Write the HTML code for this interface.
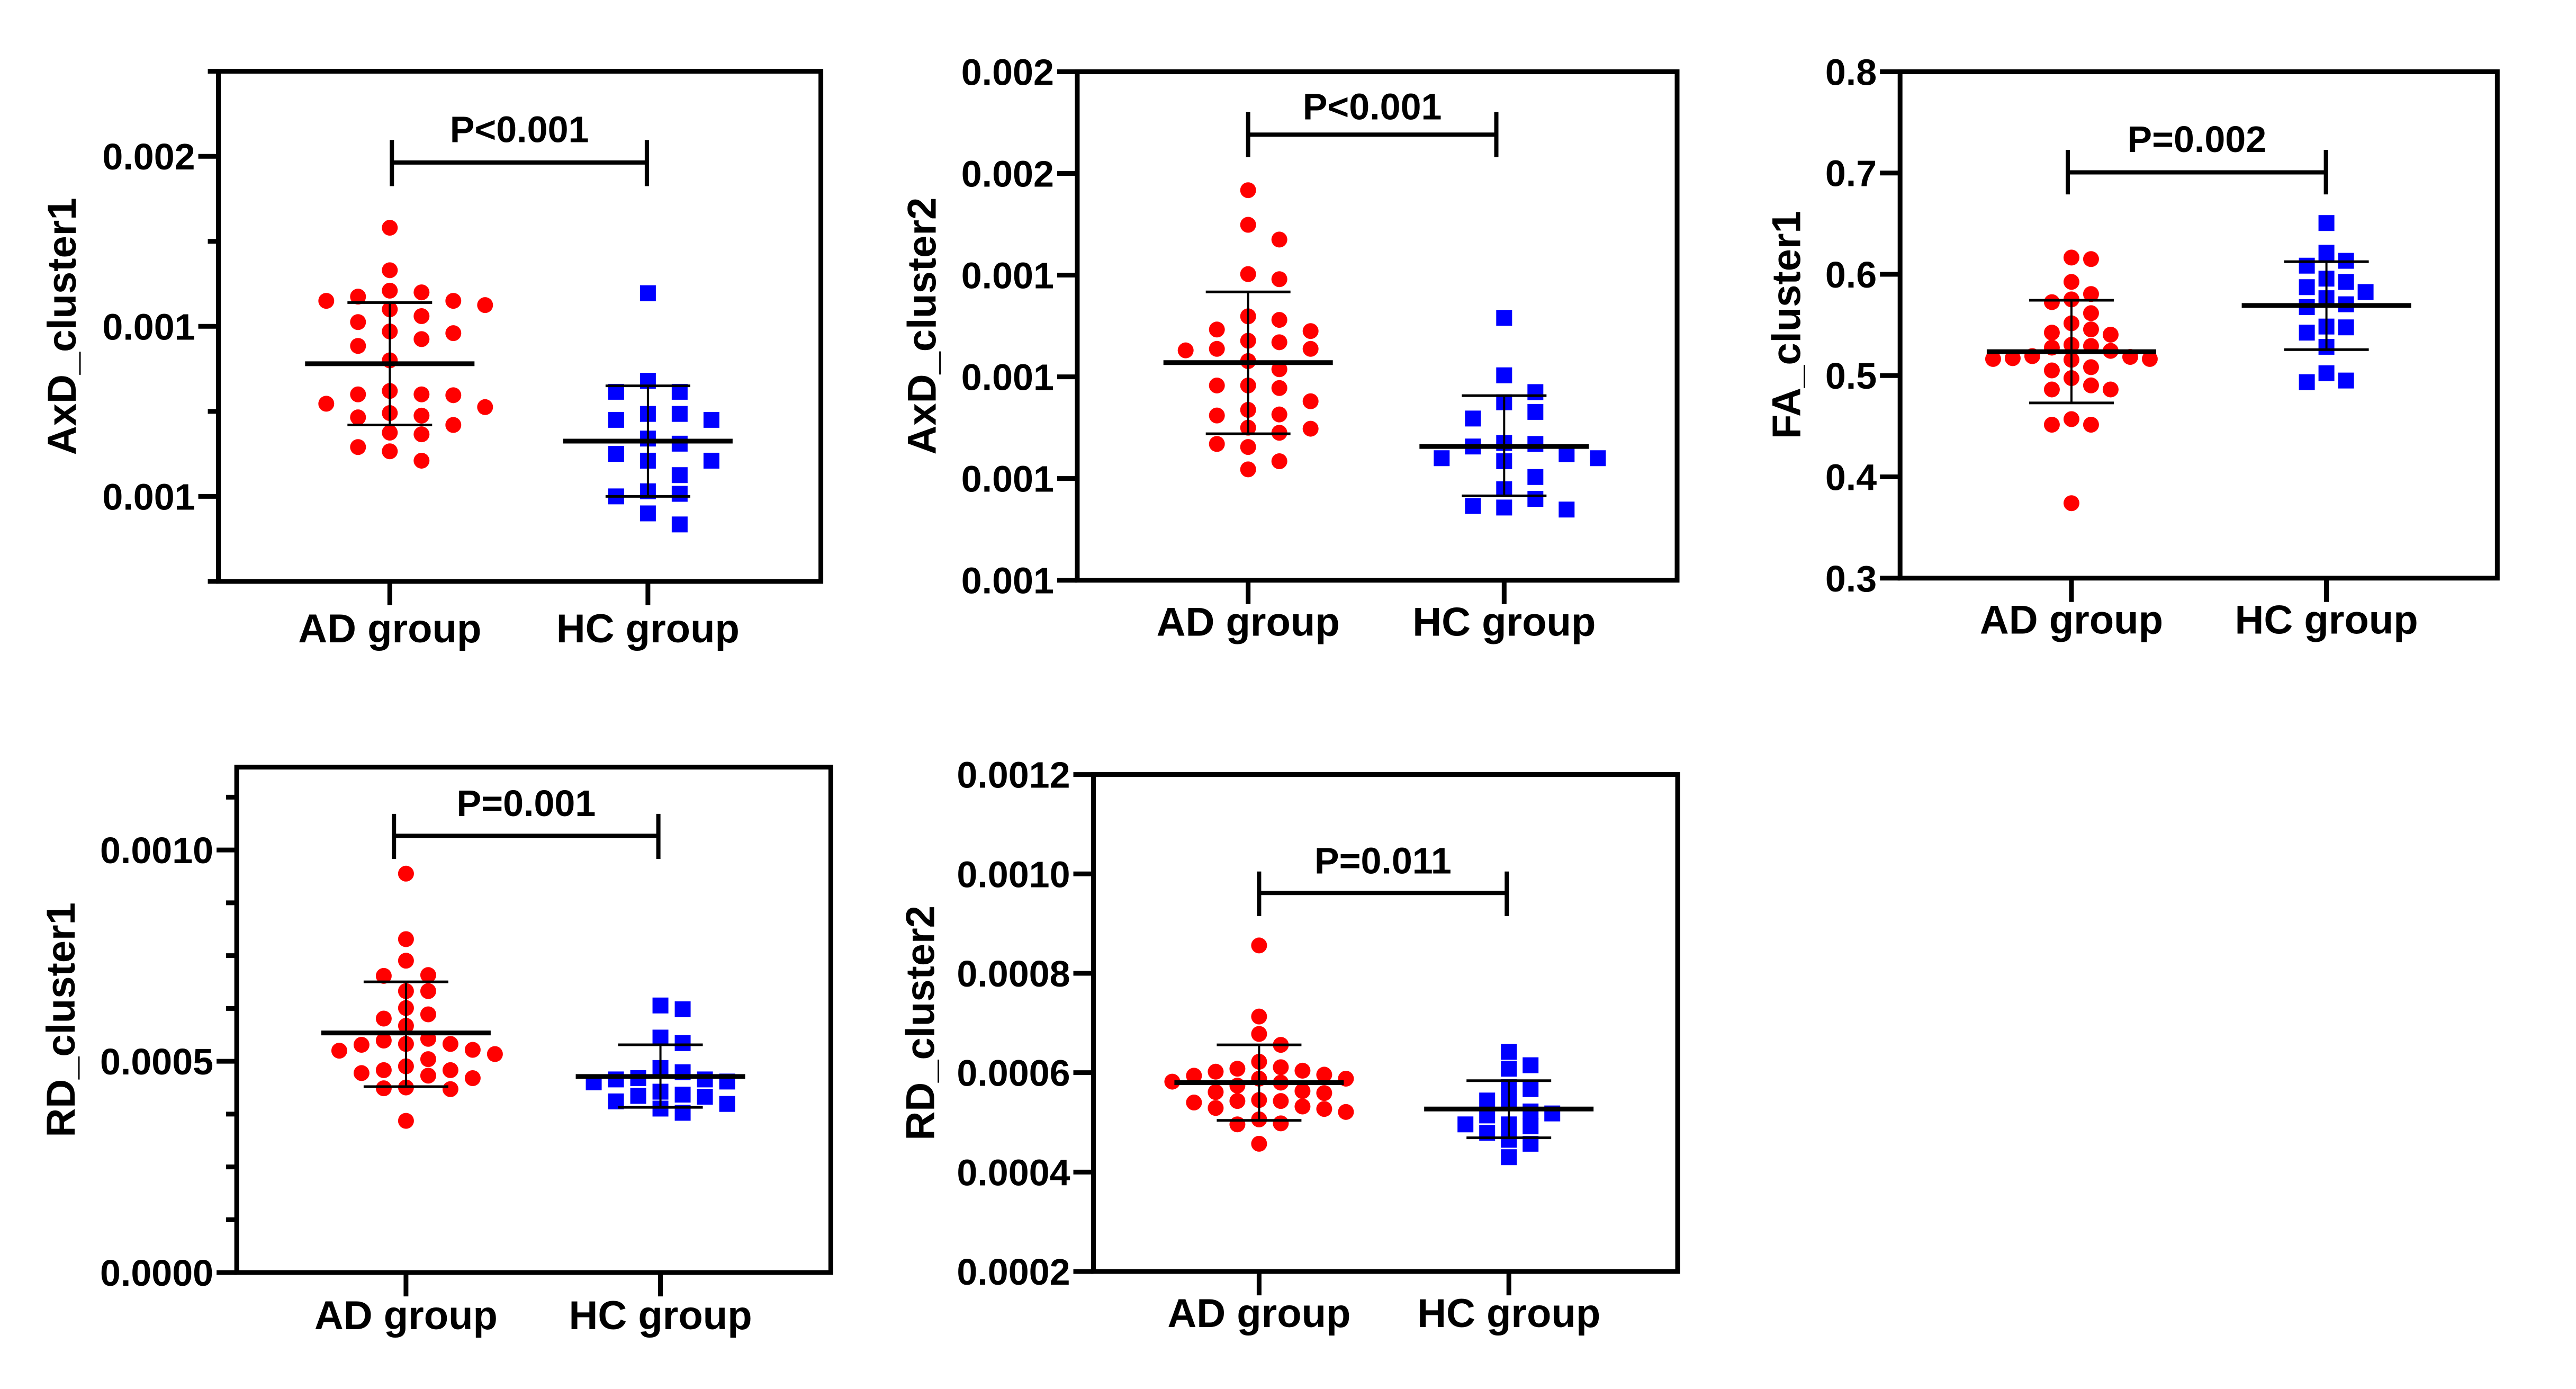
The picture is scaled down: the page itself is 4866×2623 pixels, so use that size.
<!DOCTYPE html>
<html><head><meta charset="utf-8"><style>
html,body{margin:0;padding:0;background:#fff;}
svg{display:block;}
text{font-family:"Liberation Sans",Arial,sans-serif;font-weight:bold;fill:#000;}
</style></head><body>
<svg id="fig" width="4866" height="2623" viewBox="0 0 4866 2623" xmlns="http://www.w3.org/2000/svg">
<rect x="0" y="0" width="4866" height="2623" fill="#fff"/>
</svg>
<script>
// ---- data ----
const groupNames = ["AD group", "HC group"];

const p1_ad = [15.16,14.66,14.42,14.40,14.35,14.30,14.30,14.25,14.20,14.12,14.05,13.94,13.92,13.85,13.77,13.60,13.24,13.20,13.19,13.20,13.09,13.05,12.98,12.95,12.93,12.84,12.75,12.73,12.58,12.53,12.42].map(v=>v*1e-4);
const p1_hc = [14.39,13.36,13.23,13.23,12.97,12.97,12.90,12.90,12.68,12.62,12.50,12.42,12.42,12.25,12.06,12.03,12.00,11.80,11.67].map(v=>v*1e-4);
const p1_mean = [0.001356, 0.001265];
const p1_sdHi = [0.001428, 0.001330];
const p1_sdLo = [0.001284, 0.001200];
const p1_ticks = [0.0011,0.0012,0.0013,0.0014,0.0015,0.0016,0.0017];
const p1_tickLabels = ["","0.001","","0.001","","0.002",""];

const p2_ad = [14.67,13.99,13.70,13.02,12.92,12.19,12.12,11.93,11.90,11.71,11.68,11.55,11.55,11.52,11.31,11.15,10.83,10.83,10.78,10.52,10.35,10.26,10.24,10.00,9.98,9.90,9.68,9.62,9.34,9.18].map(v=>v*1e-4);
const p2_hc = [12.16,11.03,10.70,10.50,10.31,10.18,9.70,9.68,9.63,9.48,9.40,9.40,9.34,9.03,8.79,8.60,8.43,8.39,8.46].map(v=>v*1e-4);
const p2_mean = [0.001128, 0.000963];
const p2_sdHi = [0.001267, 0.001063];
const p2_sdLo = [0.000988, 0.000866];
const p2_ticks = [0.0007,0.0009,0.0011,0.0013,0.0015,0.0017];
const p2_tickLabels = ["0.001","0.001","0.001","0.001","0.002","0.002"];

const p3_ad = [0.6165,0.615,0.5925,0.5805,0.5752,0.5725,0.5616,0.5516,0.5456,0.5424,0.5404,0.5304,0.5292,0.5276,0.5244,0.5192,0.5184,0.5172,0.5164,0.5164,0.5156,0.5083,0.5051,0.4975,0.4903,0.4863,0.4863,0.457,0.4515,0.4515,0.374];
const p3_hc = [0.6506,0.6213,0.6133,0.6085,0.5957,0.5925,0.5873,0.5825,0.5764,0.5704,0.5676,0.5484,0.5476,0.5424,0.5284,0.5023,0.4951,0.4935];
const p3_mean = [0.5236, 0.5692];
const p3_sdHi = [0.5744, 0.6125];
const p3_sdLo = [0.4730, 0.5256];
const p3_ticks = [0.3,0.4,0.5,0.6,0.7,0.8];
const p3_tickLabels = ["0.3","0.4","0.5","0.6","0.7","0.8"];

const p4_ad = [9.44,7.89,7.38,7.04,7.02,6.66,6.66,6.26,6.11,6.01,5.84,5.53,5.49,5.41,5.41,5.39,5.27,5.25,5.17,5.05,4.88,4.79,4.79,4.72,4.66,4.60,4.38,4.36,4.34,3.59].map(v=>v*1e-4);
const p4_hc = [6.32,6.23,5.56,5.43,4.84,4.74,4.60,4.57,4.57,4.52,4.50,4.28,4.21,4.16,4.18,4.05,3.99,3.88,3.78].map(v=>v*1e-4);
const p4_mean = [0.000567, 0.000464];
const p4_sdHi = [0.000688, 0.000539];
const p4_sdLo = [0.000440, 0.000391];
const p4_ticks = [0,0.000125,0.00025,0.000375,0.0005,0.000625,0.00075,0.000875,0.001,0.001125];
const p4_tickLabels = ["0.0000","","","","0.0005","","","","0.0010",""];

const p5_ad = [8.56,7.13,6.78,6.56,6.11,6.22,6.08,6.04,6.02,5.96,5.94,5.88,5.88,5.82,5.80,5.74,5.63,5.61,5.59,5.45,5.43,5.43,5.40,5.32,5.29,5.27,5.21,5.06,4.98,4.96,4.57].map(v=>v*1e-4);
const p5_hc = [6.42,6.08,6.15,5.71,5.67,5.41,5.44,5.22,5.18,5.14,4.96,4.92,4.96,4.79,4.65,4.57,4.30].map(v=>v*1e-4);
const p5_mean = [0.000580, 0.000527];
const p5_sdHi = [0.000656, 0.000584];
const p5_sdLo = [0.000504, 0.000469];
const p5_ticks = [0.0002,0.0004,0.0006,0.0008,0.0010,0.0012];
const p5_tickLabels = ["0.0002","0.0004","0.0006","0.0008","0.0010","0.0012"];

const pTexts = ["P<0.001","P<0.001","P=0.002","P=0.001","P=0.011"];
const yTitles = ["AxD_cluster1","AxD_cluster2","FA_cluster1","RD_cluster1","RD_cluster2"];

// ---- layout (geometry only) ----
const NS = "http://www.w3.org/2000/svg";
const svg = document.getElementById("fig");
function mk(tag, attrs, parent){ const e=document.createElementNS(NS,tag); for(const k in attrs) e.setAttribute(k,attrs[k]); (parent||svg).appendChild(e); return e; }

const rawPanels = [
 {ox:0,oy:100,L:418,R:1571,T:135,B:1108,dom:[0.0011,0.0017],gx:[746,1240],titleX:119,pY:270,brY:309,brT:266,brB:354,brX:[750,1238],xlY:1224,step:60,vth:34,
  ad:p1_ad,hc:p1_hc,mean:p1_mean,hi:p1_sdHi,lo:p1_sdLo,ticks:p1_ticks,labels:p1_tickLabels},
 {ox:1650,oy:80,L:2040,R:3188,T:136,B:1106,dom:[0.0007,0.0017],gx:[2367,2857],titleX:1743,pY:227,brY:256,brT:213,brB:299,brX:[2367,2842],xlY:1212,step:59,vth:32,
  ad:p2_ad,hc:p2_hc,mean:p2_mean,hi:p2_sdHi,lo:p2_sdLo,ticks:p2_ticks,labels:p2_tickLabels},
 {ox:3300,oy:80,L:3593,R:4736,T:136,B:1102,dom:[0.3,0.8],gx:[3921,4409],titleX:3376,pY:289,brY:328,brT:285,brB:370,brX:[3914,4408],xlY:1208,step:37,vth:28,
  ad:p3_ad,hc:p3_hc,mean:p3_mean,hi:p3_sdHi,lo:p3_sdLo,ticks:p3_ticks,labels:p3_tickLabels},
 {ox:0,oy:1420,L:453,R:1590,T:1449,B:2413,dom:[0,0.001196],gx:[777,1264],titleX:117,pY:1542,brY:1580,brT:1538,brB:1624,brX:[754,1260],xlY:2521,step:42,vth:30,
  ad:p4_ad,hc:p4_hc,mean:p4_mean,hi:p4_sdHi,lo:p4_sdLo,ticks:p4_ticks,labels:p4_tickLabels},
 {ox:1650,oy:1420,L:2071,R:3189,T:1463,B:2411,dom:[0.0002,0.0012],gx:[2388,2866],titleX:1740,pY:1652,brY:1689,brT:1648,brB:1733,brX:[2388,2862],xlY:2517,step:41,vth:28,
  ad:p5_ad,hc:p5_hc,mean:p5_mean,hi:p5_sdHi,lo:p5_sdLo,ticks:p5_ticks,labels:p5_tickLabels}
];
const KX=0.987, KY=0.99;
const panels = rawPanels.map(r=>{
  const fx=x=>r.ox+(x-r.ox)*KX, fy=y=>r.oy+(y-r.oy)*KY;
  return Object.assign({},r,{L:fx(r.L),R:fx(r.R),T:fy(r.T),B:fy(r.B),gx:r.gx.map(fx),titleX:fx(r.titleX),
    pY:fy(r.pY),brY:fy(r.brY),brT:fy(r.brT),brB:fy(r.brB),brX:r.brX.map(fx),xlY:fy(r.xlY)});
});

// greedy beeswarm on a half-step grid
function swarm(vals, ys, cx, step, vth){
  const order = vals.map((v,i)=>i).sort((a,b)=>vals[b]-vals[a]);
  const placed=[]; const xs=new Array(vals.length);
  order.forEach(i=>{
    const y=ys(vals[i]);
    const cands=[0];
    for(let k=1;k<20;k++){ cands.push(k*step/2, -k*step/2); }
    for(const dx of cands){
      const ok = placed.every(q=> Math.abs(q.y-y)>=vth || Math.abs(q.dx-dx)>=step*0.99);
      if(ok){ xs[i]=cx+dx; placed.push({y,dx}); break; }
    }
  });
  return xs;
}

panels.forEach((p,pi)=>{
  const g = mk("g",{});
  
  
  const ys = v => p.B - (v-p.dom[0])/(p.dom[1]-p.dom[0])*(p.B-p.T);
  const fr = mk("rect",{x:p.L,y:p.T,width:p.R-p.L,height:p.B-p.T,fill:"none",stroke:"#000","stroke-width":9},g);
  
  
  p.ticks.forEach((t,i)=>{
    const y=ys(t); const major=p.labels[i]!=="";
    const tk=mk("line",{x1:p.L-(major?38:20),x2:p.L,y1:y,y2:y,stroke:"#000","stroke-width":9},g);
    
    
    if(major){
      const tl=mk("text",{x:p.L-44,y:y+25,"text-anchor":"end","font-size":70},g);
      tl.textContent=p.labels[i];
      
      
    }
  });
  const cy=(p.T+p.B)/2;
  const yt=mk("text",{x:p.titleX,y:cy,"text-anchor":"middle","dominant-baseline":"central","font-size":76,transform:`rotate(-90 ${p.titleX} ${cy})`},g);
  yt.textContent=yTitles[pi];
  
  
  p.gx.forEach((x,gi)=>{
    const xt=mk("line",{x1:x,x2:x,y1:p.B,y2:p.B+45,stroke:"#000","stroke-width":9},g);
    
    
    const xl=mk("text",{x:x,y:p.xlY,"text-anchor":"middle","font-size":76},g);
    xl.textContent=groupNames[gi];
    
    
  });
  [p.ad,p.hc].forEach((vals,gi)=>{
    const xs=swarm(vals,ys,p.gx[gi],p.step,p.vth);
    vals.forEach((v,i)=>{
      let m;
      if(gi===0){ m=mk("ellipse",{cx:xs[i],cy:ys(v),rx:15,ry:15,fill:"#ff0000"},g);  }
      else { m=mk("rect",{x:xs[i]-15,y:ys(v)-15,width:30,height:30,fill:"#0000ff"},g);  }
      
    });
    const x=p.gx[gi];
    const ml=mk("line",{x1:x-160,x2:x+160,y1:ys(p.mean[gi]),y2:ys(p.mean[gi]),stroke:"#000","stroke-width":9},g);
    
    
    const sv=mk("line",{x1:x,x2:x,y1:ys(p.hi[gi]),y2:ys(p.lo[gi]),stroke:"#000","stroke-width":4},g);
    
    
    [p.hi[gi],p.lo[gi]].forEach(v=>{
      const c=mk("line",{x1:x-80,x2:x+80,y1:ys(v),y2:ys(v),stroke:"#000","stroke-width":5},g);
      
      
    });
  });
  const br=mk("path",{d:`M${p.brX[0]} ${p.brT}V${p.brB}M${p.brX[0]} ${p.brY}H${p.brX[1]}M${p.brX[1]} ${p.brT}V${p.brB}`,fill:"none",stroke:"#000","stroke-width":8},g);
  
  
  const pt=mk("text",{x:(p.brX[0]+p.brX[1])/2,y:p.pY,"text-anchor":"middle","font-size":70},g);
  pt.textContent=pTexts[pi];
  
  
});
</script>
</body></html>
